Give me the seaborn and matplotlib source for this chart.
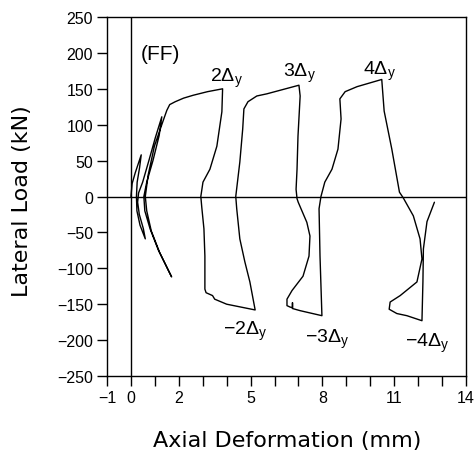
import numpy as np
import pandas as pd
import matplotlib
matplotlib.use("Agg")
import matplotlib.pyplot as plt
import seaborn as sns

# Hysteresis path: axial deformation (mm) vs lateral load (kN), traced in order
deform_mm = [
    0.00, 0.05, 0.18, 0.30, 0.43, 0.36, 0.26, 0.23, 0.25, 0.38, 0.60,
    0.52, 0.35, 0.28, 0.32, 0.49, 0.75, 1.02, 1.29,
    1.18, 0.92, 0.66, 0.54, 0.58, 0.80, 1.15, 1.45, 1.70,
    1.55, 1.20, 0.85, 0.66, 0.60, 0.72, 0.98, 1.33, 1.50, 1.62, 1.85, 2.20, 2.60, 3.20, 3.83,
    3.80, 3.59, 3.30, 3.01, 2.92, 2.96, 3.05, 3.09, 3.09, 3.14, 3.41, 3.50, 4.00, 5.19,
    4.97, 4.76, 4.55, 4.42, 4.38, 4.55, 4.67, 4.72, 4.89, 5.26, 5.68, 7.02,
    7.07, 6.98, 6.94, 6.90, 6.94, 6.99, 7.35, 7.48, 7.44, 7.19, 6.73, 6.52, 6.52, 6.65,
    6.75, 6.75, 6.75, 7.07, 7.98,
    7.90, 7.86, 7.94, 8.10, 8.40, 8.65, 8.78, 8.73, 8.95, 9.45, 10.48,
    10.58, 10.90, 11.22, 11.38, 11.80, 12.08, 12.16, 11.95, 11.25, 10.83, 10.79, 11.11,
    11.53, 12.16,
    12.20, 12.22, 12.37, 12.68,
]
load_kN = [
    0, 18, 33, 45, 58, 40, 20, 0, -20, -40, -59,
    -45, -25, -8, 5, 20, 50, 82, 111,
    85, 50, 20, 0, -20, -45, -75, -95, -112,
    -102, -78, -48, -20, 0, 30, 70, 104, 120, 128, 132, 137, 141, 146, 150,
    118, 70, 38, 20, 0, -15, -45, -83, -129, -134, -138, -143, -150, -158,
    -119, -91, -59, -17, 0, 48, 94, 122, 132, 140, 143, 155,
    140, 84, 38, 10, -3, -8, -36, -55, -83, -111, -131, -143, -152, -154,
    -155, -148, -156, -159, -166,
    -83, -17, 0, 20, 38, 66, 108, 136, 146, 153, 163,
    119, 66, 6, -2, -27, -59, -87, -119, -138, -147, -157, -163,
    -166, -173,
    -119, -73, -35, -8,
]

x_ticks = list(range(-1, 15))
x_tick_labels = ["-1", "0", "", "2", "", "", "5", "", "", "8", "", "", "11", "", "", "14"]
y_ticks = list(range(-250, 251, 50))

cycle_labels = [r"$2\Delta_\mathregular{y}$", r"$3\Delta_\mathregular{y}$", r"$4\Delta_\mathregular{y}$",
                r"$-2\Delta_\mathregular{y}$", r"$-3\Delta_\mathregular{y}$", r"$-4\Delta_\mathregular{y}$"]
label_x = [3.31, 6.34, 9.69, 3.86, 7.28, 11.46]
label_y = [161, 168, 171, -191, -203, -208]

df = pd.DataFrame({"deform": deform_mm, "load": load_kN})

sns.set_style("ticks")
plt.rcParams["font.family"] = ["Liberation Sans", "DejaVu Sans"]
plt.rcParams["mathtext.fontset"] = "custom"
plt.rcParams["mathtext.rm"] = "Liberation Sans"
plt.rcParams["mathtext.it"] = "Liberation Sans"
plt.rcParams["text.color"] = "black"
plt.rcParams["axes.labelcolor"] = "black"
plt.rcParams["xtick.color"] = "black"
plt.rcParams["ytick.color"] = "black"

fig = plt.figure(figsize=(4.77, 4.52), dpi=100)
ax = fig.add_axes([107 / 477, 1 - 377 / 452, (466 - 107) / 477, (377 - 18) / 452])

sns.lineplot(data=df, x="deform", y="load", sort=False, estimator=None,
             color="black", linewidth=1.0, ax=ax)

ax.axvline(0, color="black", linewidth=1.0)
ax.axhline(0, color="black", linewidth=1.0)

ax.set_xlim(-1, 14)
ax.set_ylim(-250, 250)
ax.set_xticks(x_ticks)
ax.set_xticklabels([t.replace("-", "\u2212") for t in x_tick_labels])
ax.set_yticks(y_ticks)
ax.set_yticklabels([str(v).replace("-", "\u2212") for v in y_ticks])
ax.tick_params(axis="both", direction="out", length=7, width=1, labelsize=11.5,
               colors="black", labelcolor="black", pad=3)
for s in ax.spines.values():
    s.set_visible(True)
    s.set_linewidth(1)
    s.set_color("black")
ax.set_xlabel("")
ax.set_ylabel("")

ax.text(1.25, 199, "(FF)", fontsize=15, ha="center", va="center", color="black")
for t, lx, ly in zip(cycle_labels, label_x, label_y):
    ax.text(lx, ly, t, fontsize=14, ha="left", va="baseline", color="black")

fig.text(22 / 477, 1 - 201 / 452, "Lateral Load (kN)", rotation=90, ha="center", va="center",
         fontsize=16, family="DejaVu Sans", color="black")
fig.text(287 / 477, 1 - 441 / 452, "Axial Deformation (mm)", ha="center", va="center",
         fontsize=16, family="DejaVu Sans", color="black")

fig.savefig("out.png", dpi=100)
